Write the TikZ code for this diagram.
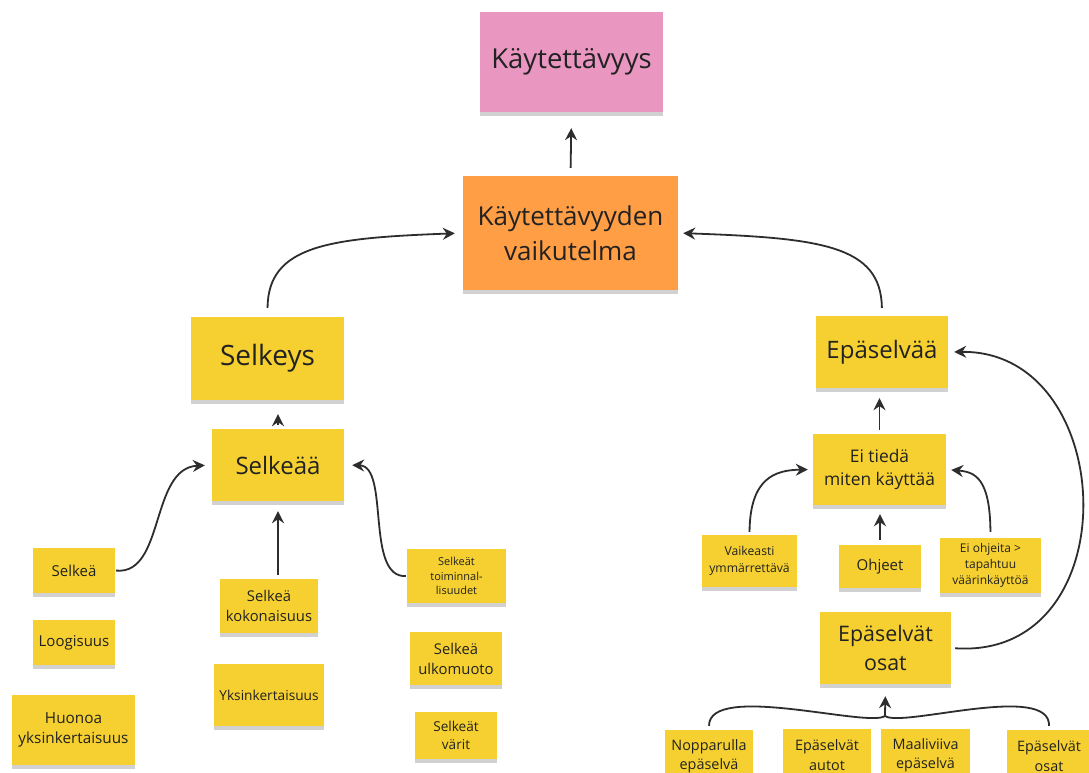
\documentclass[tikz,border=0pt]{standalone}
\usepackage{fontspec}
\setmainfont{Open Sans}
\usetikzlibrary{arrows.meta,shadows}
\definecolor{ynote}{HTML}{F5D030}
\definecolor{pnote}{HTML}{E996C0}
\definecolor{onote}{HTML}{FF9E45}
\definecolor{txt}{HTML}{222222}
\definecolor{ln}{HTML}{2D2D2D}
\begin{document}
\begin{tikzpicture}[x=1pt,y=-1pt,
  note/.style={fill=ynote, inner sep=2pt, align=center, text=txt,
    drop shadow={shadow xshift=0pt,shadow yshift=-4pt,opacity=0.18,fill=black}},
  fs/.style={font=\fontsize{#1}{\dimexpr #1pt*135/100\relax}\selectfont},
  conn/.style={draw=ln, line width=1.8pt},
  arr/.style={conn, -{Stealth[length=12pt,width=12pt,inset=4pt]}}]
\clip (0,0) rectangle (1089,773);
\fill[white] (0,0) rectangle (1089,773);

% top
\node[note, fill=pnote, minimum width=183pt, minimum height=100pt, fs=27.5] (kay) at (571.5,62) {Käytettävyys};
\node[note, fill=onote, minimum width=215pt, minimum height=114pt, fs=26] (vaik) at (570.5,233) {Käytettävyyden\\vaikutelma};

% left branch
\node[note, minimum width=153pt, minimum height=83pt, fs=28] (selkeys) at (267.5,358.5) {Selkeys};
\node[note, minimum width=132pt, minimum height=72pt, fs=24] (selkeaa) at (278,465) {Selkeää};
\node[note, minimum width=82pt, minimum height=45pt, fs=15] (selkea) at (74,570.5) {Selkeä};
\node[note, minimum width=82pt, minimum height=45pt, fs=15] (loog) at (74,642.5) {Loogisuus};
\node[note, minimum width=123pt, minimum height=70pt, fs=15.3] (huon) at (73.5,730) {Huonoa\\yksinkertaisuus};
\node[note, minimum width=98pt, minimum height=54pt, fs=14.8] (koko) at (269,606) {Selkeä\\kokonaisuus};
\node[note, minimum width=110pt, minimum height=62pt, fs=13.7] (yksi) at (269,695) {Yksinkertaisuus};
\node[note, minimum width=99pt, minimum height=54pt, fs=11] (toim) at (456.5,576) {Selkeät\\toiminnal-\\lisuudet};
\node[note, minimum width=92pt, minimum height=53pt, fs=14.8] (ulko) at (456,658.5) {Selkeä\\ulkomuoto};
\node[note, minimum width=82pt, minimum height=47pt, fs=13.6] (vari) at (456,735.5) {Selkeät\\värit};

% right branch
\node[note, minimum width=132pt, minimum height=72pt, fs=24] (epas) at (882,352) {Epäselvää};
\node[note, minimum width=133pt, minimum height=71pt, fs=17.4] (eitied) at (879.5,469.5) {Ei tiedä\\miten käyttää};
\node[note, minimum width=95pt, minimum height=52pt, fs=12.2] (vaike) at (749.5,561) {Vaikeasti\\ymmärrettävä};
\node[note, minimum width=82pt, minimum height=43pt, fs=15] (ohje) at (880,566.5) {Ohjeet};
\node[note, minimum width=101pt, minimum height=55pt, fs=12] (eiohj) at (990.5,565.5) {Ei ohjeita >\\tapahtuu\\väärinkäyttöä};
\node[note, minimum width=131pt, minimum height=72pt, fs=21.4] (eos) at (885.5,648) {Epäselvät\\osat};
\node[note, minimum width=88pt, minimum height=52pt, fs=14.4] (nopp) at (709,756) {Nopparulla\\epäselvä};
\node[note, minimum width=88pt, minimum height=52pt, fs=14.4] (autot) at (827,755) {Epäselvät\\autot};
\node[note, minimum width=89pt, minimum height=52pt, fs=14.4] (maali) at (925.5,755) {Maaliviiva\\epäselvä};
\node[note, minimum width=84pt, minimum height=52pt, fs=14.4] (eos2) at (1049,756) {Epäselvät\\osat};

% connectors
\draw[arr, shorten <=8pt, shorten >=16pt] (vaik.north) -- (kay.south);
\draw[arr, shorten <=9pt, shorten >=8pt] (selkeys.north) .. controls (268,245) and (330,238) .. (vaik.west);
\draw[arr, shorten <=8pt, shorten >=5pt] (epas.north) .. controls (881,245) and (820,238) .. (vaik.east);
\draw[arr, shorten <=4pt, shorten >=14pt] (selkeaa.north) -- (selkeaa.north |- selkeys.south);
\draw[arr, shorten <=4pt, shorten >=10pt] (koko.north -| selkeaa.south) -- (selkeaa.south);
\draw[arr, shorten <=1pt, shorten >=7pt] (selkea.east) .. controls (165,575) and (150,468) .. (selkeaa.west);
\draw[arr, shorten <=1pt, shorten >=8pt] (toim.west) .. controls (365,578) and (390,466) .. (selkeaa.east);
\draw[arr, shorten <=4pt, shorten >=10pt] (eitied.north) -- (eitied.north |- epas.south);
\draw[arr, shorten <=5pt, shorten >=9pt] (ohje.north) -- (ohje.north |- eitied.south);
\draw[arr, shorten <=3pt, shorten >=5pt] (vaike.north) .. controls (750,478) and (775,470) .. (eitied.west);
\draw[arr, shorten <=6pt, shorten >=5pt] (eiohj.north) .. controls (990,478) and (975,472) .. (eitied.east);
\draw[arr, shorten <=4pt, shorten >=6pt] (eos.east) .. controls (1130,660) and (1120,350) .. (epas.east);
\coordinate (join) at (885,716);
\draw[conn, shorten <=4pt] (nopp.north) .. controls (709,682) and (868,728) .. (join);
\draw[conn, shorten <=4pt] (eos2.north) .. controls (1050,682) and (902,728) .. (join);
\draw[arr, shorten >=12pt] (join) -- (eos.south);
\end{tikzpicture}
\end{document}
